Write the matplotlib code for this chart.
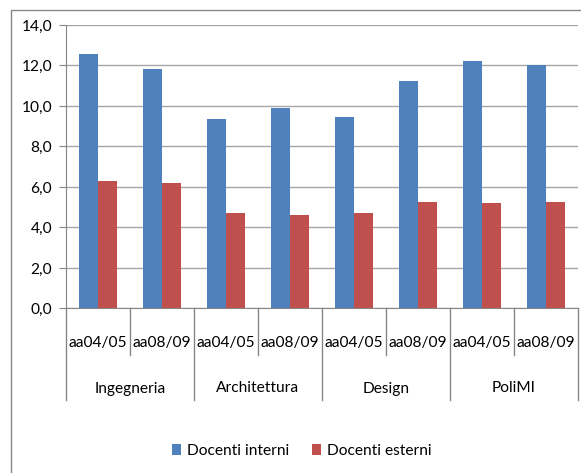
import matplotlib.pyplot as plt
from matplotlib.patches import Rectangle

# data
groups = ['Ingegneria', 'Architettura', 'Design', 'PoliMI']
years = ['aa04/05', 'aa08/09']
interni = [12.57, 11.83, 9.38, 9.88, 9.48, 11.24, 12.23, 12.0]
esterni = [6.29, 6.19, 4.70, 4.60, 4.70, 5.25, 5.20, 5.25]
yticks = [0, 2, 4, 6, 8, 10, 12, 14]

blue = '#4F81BD'
red = '#C0504D'
W, H = 581, 473
fs = 11.2

plt.rcParams['font.family'] = ['Lato', 'DejaVu Sans']
fig = plt.figure(figsize=(W / 100, H / 100), dpi=100)
ax = fig.add_axes([66 / W, 1 - 308.5 / H, (578 - 66) / W, (308.5 - 25) / H])

# outer chart border (right/bottom cut off in the reference)
fig.patches.append(Rectangle((11 / W, -0.1), 1.2, 1.1 - 10.5 / H, transform=fig.transFigure,
                             fill=False, edgecolor='#868686', linewidth=1))

n = len(interni)
x = list(range(n))
w = 0.297
ax.bar([i - w / 2 for i in x], interni, w, color=blue, label='Docenti interni', zorder=3)
ax.bar([i + w / 2 for i in x], esterni, w, color=red, label='Docenti esterni', zorder=3)

ax.set_xlim(-0.5, n - 0.5)
ax.set_ylim(0, 14)
ax.set_yticks(yticks)
ax.set_yticklabels([f'{v:.1f}'.replace('.', ',') for v in yticks], fontsize=fs)
ax.yaxis.grid(True, color='#A6A6A6', linewidth=1)
ax.set_axisbelow(True)
ax.tick_params(axis='y', length=5, color='#868686', pad=5)
ax.set_xticks([])
for s in ['top', 'right']:
    ax.spines[s].set_visible(False)
for s in ['left', 'bottom']:
    ax.spines[s].set_color('#868686')

# two-level category axis
axh = 308.5 - 25
trans = ax.get_xaxis_transform()
for b in range(n + 1):
    bottom = -91.5 / axh if b % 2 == 0 else -46.5 / axh
    ax.plot([b - 0.5, b - 0.5], [0, bottom], color='#868686', lw=1, transform=trans, clip_on=False)
for i in x:
    ax.text(i, -34.5 / axh, years[i % 2], ha='center', va='center', fontsize=fs, transform=trans)
for g, name in enumerate(groups):
    ax.text(2 * g + 0.5, -80 / axh, name, ha='center', va='center', fontsize=fs, transform=trans)

fig.legend(loc='center', bbox_to_anchor=(302 / W, 1 - 451 / H), ncol=2, frameon=False,
           fontsize=fs, handlelength=0.55, handleheight=0.65, handletextpad=0.4, columnspacing=1.5)

fig.savefig('out.png', dpi=100)
